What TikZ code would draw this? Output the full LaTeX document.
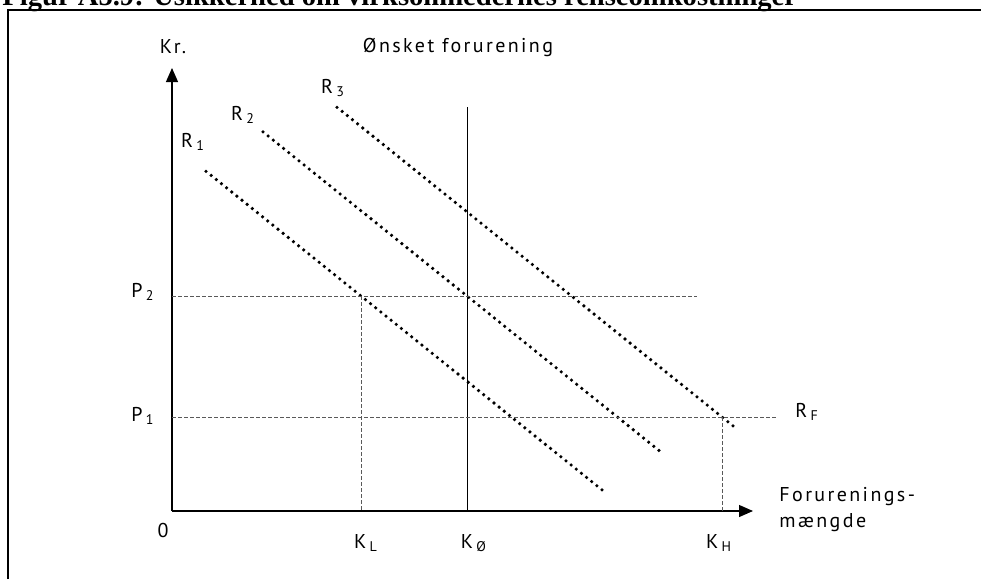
\documentclass[tikz,border=0pt]{standalone}
\usepackage{fontspec}
\setmainfont{PT Sans}[LetterSpace=12]
\newfontfamily\titlefont{Liberation Serif}
\usetikzlibrary{arrows.meta, positioning}
\newcommand{\lowidx}[1]{\,\textsubscript{#1}}

\begin{document}
\begin{tikzpicture}[x=0.5pt, y=-0.5pt, >={Triangle[length=7pt, width=6pt]}, font=\fontsize{10}{13}\selectfont]
\tikzset{lbl/.style={inner sep=0}, axis/.style={line width=0.6pt}, rline/.style={line width=1.8pt, line cap=round, dash pattern=on 0pt off 3.3pt}, guide/.style={gray!70!black, line width=0.45pt, dash pattern=on 2pt off 1pt}}
\useasboundingbox (0,0) rectangle (981,579);
\node[anchor=base west, inner sep=0, font=\titlefont\bfseries\fontsize{14.3}{16}\selectfont] (title) at (2,5.5) {Figur A5.9: Usikkerhed om virksomhedernes renseomkostninger};
\draw[line width=1pt] (8,579) -- (8,10) -- (981,10);
% axes
\coordinate (O) at (172,511); \coordinate (Ytop) at (172,68); \coordinate (Xend) at (753,511);
\draw[axis, ->] (O) -- (Ytop); \draw[axis, ->] (O) -- (Xend);
\node[lbl] (kr) at (173,47) {Kr.};
\node[lbl] (zero) at (163,530) {0};
\node[lbl, anchor=west, align=left] (xlab) at (779,510) {Forurenings-\\mængde};
% desired pollution
\coordinate (W1) at (467,107); \coordinate (W0) at (467,511);
\draw[line width=0.5pt] (W1) -- (W0);
\node[lbl] (want) at (458,47) {Ønsket forurening};
% reduction cost curves
\coordinate (R1a) at (206,171.3); \coordinate (R1b) at (605,492.3);
\coordinate (R2a) at (263,131.9); \coordinate (R2b) at (663,453.7);
\coordinate (R3a) at (337,107.3); \coordinate (R3b) at (736,428.3);
\draw[rline] (R1a) -- (R1b); \draw[rline] (R2a) -- (R2b); \draw[rline] (R3a) -- (R3b);
\node[lbl] (r1) at (193,142) {R\lowidx{1}};
\node[lbl] (r2) at (243,115) {R\lowidx{2}};
\node[lbl] (r3) at (333,88) {R\lowidx{3}};
% price levels
\coordinate (P2a) at (172,296); \coordinate (P2b) at (697,296);
\coordinate (P1a) at (172,417); \coordinate (P1b) at (777,417);
\draw[guide] (P2a) -- (P2b); \draw[guide] (P1a) -- (P1b);
\node[lbl] (p2) at (143,292) {P\lowidx{2}};
\node[lbl] (p1) at (143,416) {P\lowidx{1}};
\node[lbl] (rf) at (807,412) {R\lowidx{F}};
% quantities
\coordinate (KLa) at (361,296); \coordinate (KLb) at (361,511);
\coordinate (KHa) at (722,417); \coordinate (KHb) at (722,511);
\draw[guide] (KLa) -- (KLb); \draw[guide] (KHa) -- (KHb);
\node[lbl] (kl) at (366,543) {K\lowidx{L}};
\node[lbl] (ko) at (474,543) {K\lowidx{Ø}};
\node[lbl] (kh) at (719,543) {K\lowidx{H}};
\end{tikzpicture}
\end{document}
